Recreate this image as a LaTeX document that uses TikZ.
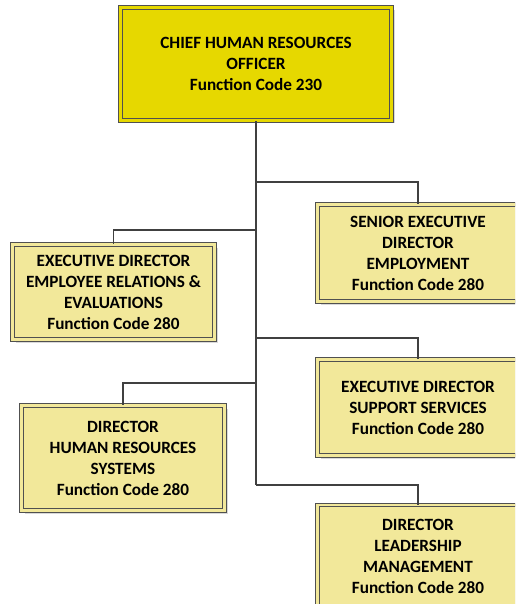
\documentclass[tikz,border=0pt]{standalone}
\usepackage{fontspec}
\setmainfont{Carlito}
\usetikzlibrary{shadows}
\definecolor{topfill}{HTML}{E6D800}
\definecolor{boxfill}{HTML}{F2E89A}
\definecolor{edge}{HTML}{505050}
\definecolor{wire}{HTML}{404040}
\tikzset{
  orgbox/.style={draw=edge, line width=0.8pt, double distance=2.6pt,
    fill=boxfill, double=boxfill, align=center, inner sep=0pt,
    font=\fontsize{17.2}{21}\selectfont\bfseries,
    drop shadow={shadow xshift=3pt, shadow yshift=-3pt, fill=black!15, opacity=1}},
  topbox/.style={orgbox, fill=topfill, double=topfill},
  wireline/.style={draw=wire, line width=1.5pt}
}
\begin{document}
\begin{tikzpicture}[x=1pt,y=-1pt]
\useasboundingbox (0,0) rectangle (515,604);
\clip (0,0) rectangle (515,604);
\node[topbox, minimum width=271pt, minimum height=113pt] (top) at (256,64)
  {CHIEF HUMAN RESOURCES\\OFFICER\\Function Code 230};
\node[orgbox, minimum width=201pt, minimum height=97pt] (senior) at (418,253)
  {SENIOR EXECUTIVE\\DIRECTOR\\EMPLOYMENT\\Function Code 280};
\node[orgbox, minimum width=202pt, minimum height=95pt] (eder) at (113.5,292)
  {EXECUTIVE DIRECTOR\\EMPLOYEE RELATIONS \&\\EVALUATIONS\\Function Code 280};
\node[orgbox, minimum width=201pt, minimum height=96pt] (support) at (418,407.5)
  {EXECUTIVE DIRECTOR\\SUPPORT SERVICES\\Function Code 280};
\node[orgbox, minimum width=203pt, minimum height=105pt] (dhrs) at (123,458)
  {DIRECTOR\\HUMAN RESOURCES\\SYSTEMS\\Function Code 280};
\node[orgbox, minimum width=201pt, minimum height=102pt] (dlm) at (418,556)
  {DIRECTOR\\LEADERSHIP\\MANAGEMENT\\Function Code 280};
\coordinate (j1) at (256,182);
\coordinate (j2) at (256,230);
\coordinate (j3) at (256,338);
\coordinate (j4) at (256,383);
\coordinate (j5) at (256,485);
\draw[wireline] (top.south) -- (j5);
\draw[wireline] (j1) -| (senior.north);
\draw[wireline] (j2) -| (eder.north);
\draw[wireline] (j3) -| (support.north);
\draw[wireline] (j4) -| (dhrs.north);
\draw[wireline] (j5) -| (dlm.north);
\end{tikzpicture}
\end{document}
